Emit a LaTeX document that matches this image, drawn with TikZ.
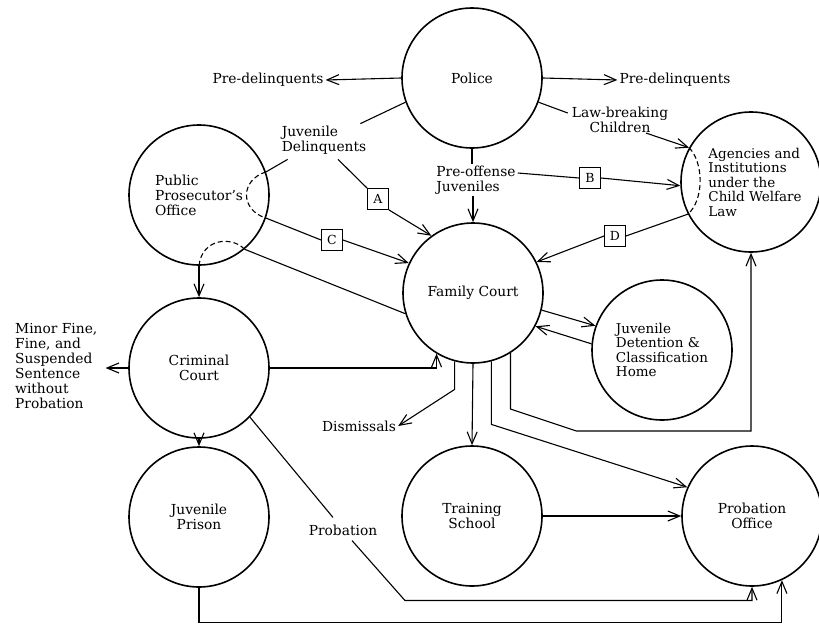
\documentclass[tikz,border=0pt]{standalone}
\usepackage{fontspec}
\setmainfont{DejaVu Serif}
\usetikzlibrary{arrows.meta,calc}
\begin{document}
\begin{tikzpicture}[x=1pt,y=1pt,
  circ/.style={circle,draw,line width=1.6pt,minimum size=140pt,inner sep=0pt,align=center,font=\fontsize{13.8}{15}\selectfont},
  lbl/.style={inner sep=2pt,font=\fontsize{13.8}{15}\selectfont},
  tag/.style={draw,line width=0.9pt,minimum size=21pt,inner sep=0pt,font=\fontsize{12.5}{14}\selectfont},
  conn/.style={line width=1.1pt},
  arr/.style={line width=1.1pt,-{Straight Barb[length=12pt,width=10pt]}},
  dsh/.style={line width=1.1pt,dash pattern=on 5pt off 3pt}]
\useasboundingbox (0,0) rectangle (819,-624);
\fill[white] (0,0) rectangle (819,-624);
% circles
\node[circ] (police) at (472,-78) {Police};
\node[circ,align=left] (ppo) at (199,-195) {Public\\Prosecutor's\\Office};
\node[circ,align=left,font=\fontsize{13.5}{14.5}\selectfont] (ag) at (751,-182) {\hspace*{8pt}Agencies and\\\hspace*{8pt}Institutions\\\hspace*{8pt}under the\\\hspace*{8pt}Child Welfare\\\hspace*{8pt}Law};
\node[circ] (fc) at (473,-293) {Family Court};
\node[circ,align=left,font=\fontsize{13.5}{14.5}\selectfont] (jd) at (662,-350) {Juvenile\\Detention \&\\Classification\\Home};
\node[circ] (cc) at (199,-368) {Criminal\\Court};
\node[circ] (jp) at (199,-517) {Juvenile\\Prison};
\node[circ] (ts) at (472,-516) {Training\\School};
\node[circ] (po) at (752,-516) {Probation\\Office};
% labels
\node[lbl] (pdl) at (268,-80) {Pre-delinquents};
\node[lbl] (pdr) at (675,-80) {Pre-delinquents};
\node[lbl,align=center] (lbc) at (620,-120) {Law-breaking\\Children};
\node[lbl,align=left] (jdl) at (324,-140) {Juvenile\\Delinquents};
\node[lbl,align=left] (pre) at (476,-180) {Pre-offense\\Juveniles};
\node[lbl,align=left,anchor=west] (mf) at (13,-366) {Minor Fine,\\Fine, and\\Suspended\\Sentence\\without\\Probation};
\node[lbl] (dis) at (359,-426) {Dismissals};
\node[lbl] (prob) at (343,-530) {Probation};
\node[tag] (A) at (378,-199) {A};
\node[tag] (B) at (590,-178) {B};
\node[tag] (C) at (332,-240) {C};
\node[tag] (D) at (615,-236) {D};
% connectors
\draw[arr] (police.west) -- (pdl.east);
\draw[arr] (police.east) -- (pdr.west);
\draw[conn] (police.-20) -- ($(lbc.west)+(-2,7)$);
\draw[arr] ($(lbc.south)+(26,2)$) -- (ag.151);
\draw[dsh] (ag.151) .. controls (704,-163) and (704,-200) .. (ag.207);
\draw[conn] (police.200) -- ($(jdl.north east)+(-8,0)$);
\draw[conn] ($(jdl.south west)+(8,-3)$) -- (ppo.19);
\draw[dsh] (ppo.19) .. controls (240,-180) and (240,-210) .. (ppo.-19);
\draw[conn] (ppo.-19) -- (C.west);
\draw[arr] (C.east) -- (fc.155);
\draw[conn] ($(jdl.south)+(14,-3)$) -- (A.north west);
\draw[arr] (A.south east) -- (fc.126);
\draw[conn] (police.south) -- (pre.north -| police.south);
\draw[arr] (pre.south -| fc.north) -- (fc.north);
\draw[conn] ($(pre.east)+(0,7)$) -- (B.west);
\draw[arr] (B.east) -- (ag.183);
\draw[conn] (ag.207) -- (D.east);
\draw[arr] (D.west) -- (fc.26);
\draw[arr] (fc.-14) -- (jd.160);
\draw[arr] (jd.175) -- (fc.-28);
\draw[arr] (cc.east) -| (fc.239);
\draw[arr] (fc.255) -- ++(0,-28) -- (dis.east);
\draw[arr] (fc.south) -- (ts.north);
\draw[arr] (fc.-75) -- ++(0,-63) -- (po.156);
\draw[arr] (fc.-58) -- ++(0,-56) -- ++(66,-22) -| (ag.south);
\draw[arr] (ts.east) -- (po.west);
\draw[conn] (cc.-44) -- ($(prob.north)+(-10,5)$);
\draw[arr] ($(prob.south)+(9,-3)$) -- ++(53,-60) -| (po.south);
\draw[arr] (cc.south) -- (jp.north);
\draw[arr] (jp.south) -- ++(0,-35) -| (po.-65);
\draw[arr] (cc.west) -- ($(mf.east |- cc.west)+(6,0)$);
\draw[dsh] (ppo.-50) .. controls (232,-236) and (202,-238) .. (ppo.south);
\draw[conn] (ppo.-50) -- (fc.197);
\draw[arr] (ppo.south) -- (cc.north);
\end{tikzpicture}
\end{document}
